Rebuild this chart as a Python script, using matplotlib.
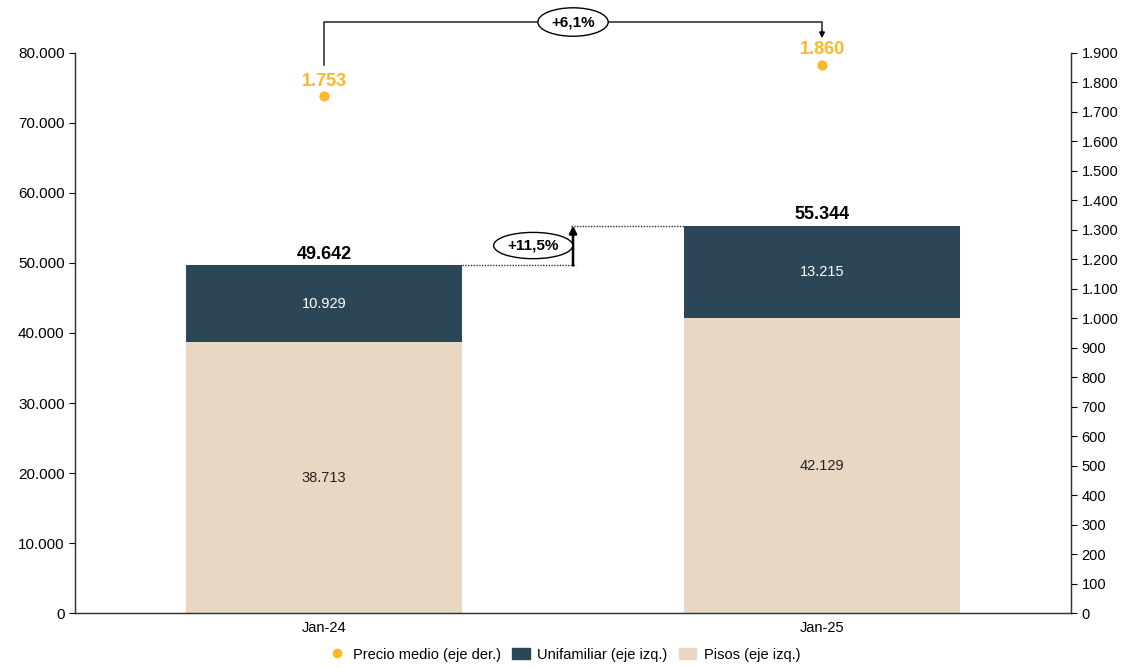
import matplotlib.pyplot as plt
import numpy as np
from matplotlib.ticker import FuncFormatter
from matplotlib.lines import Line2D
from matplotlib.patches import Patch

plt.rcParams['font.family'] = ['Liberation Sans', 'DejaVu Sans']

fechas = ['Jan-24', 'Jan-25']
pisos = [38713, 42129]
unifamiliar = [10929, 13215]
precio = [1753, 1860]
var_total = '+11,5%'
var_precio = '+6,1%'

c_pisos = '#E8D8C3'
c_uni = '#2A4657'
c_precio = '#FBB829'


def miles(v, pos=None):
    return f'{int(round(v)):,}'.replace(',', '.')


fig = plt.figure(figsize=(11.28, 6.68), dpi=100)
ax = fig.add_axes([0.0665, 0.0823, 0.883, 0.8384])
ax2 = ax.twinx()

x = np.arange(len(fechas))
w = 0.554
totales = [p + u for p, u in zip(pisos, unifamiliar)]

ax.bar(x, pisos, w, color=c_pisos, zorder=2)
ax.bar(x, unifamiliar, w, bottom=pisos, color=c_uni, zorder=2)

for i in range(len(x)):
    ax.text(x[i], pisos[i] / 2, miles(pisos[i]), ha='center', va='center',
            fontsize=10.5, color='#222222')
    ax.text(x[i], pisos[i] + unifamiliar[i] / 2, miles(unifamiliar[i]),
            ha='center', va='center', fontsize=10.5, color='white')
    ax.text(x[i], totales[i] + 400, miles(totales[i]), ha='center', va='bottom',
            fontsize=13, fontweight='bold', color='black')

ax.set_xlim(-0.5, 1.5)
ax.set_ylim(0, 80000)
ax.set_yticks(np.arange(0, 80001, 10000))
ax.yaxis.set_major_formatter(FuncFormatter(miles))
ax.set_xticks(x)
ax.set_xticklabels(fechas)
ax.tick_params(axis='x', length=0, labelsize=10.5, pad=6)
ax.tick_params(axis='y', labelsize=11, length=4)

ax2.set_ylim(0, 1900)
ax2.set_yticks(np.arange(0, 1901, 100))
ax2.yaxis.set_major_formatter(FuncFormatter(miles))
ax2.tick_params(axis='y', labelsize=10.5, length=4)
ax2.scatter(x, precio, s=40, color=c_precio, zorder=3, clip_on=False)
for i in range(len(x)):
    ax2.text(x[i], precio[i] + 22, miles(precio[i]), ha='center', va='bottom',
             fontsize=13, fontweight='bold', color=c_precio)

for a in (ax, ax2):
    a.spines['top'].set_visible(False)
    for s in ('left', 'right', 'bottom'):
        a.spines[s].set_color('#333333')
        a.spines[s].set_linewidth(0.9)

# flecha precio medio
y_top = 2005
ax2.plot([x[0], x[0], x[1], x[1]], [precio[0] + 105, y_top, y_top, 1975],
         color='#222222', lw=1.1, clip_on=False, zorder=4)
ax2.annotate('', xy=(x[1], 1950), xytext=(x[1], 1976),
             arrowprops=dict(arrowstyle='-|>', color='black', lw=1.1,
                             mutation_scale=8, shrinkA=0, shrinkB=0),
             annotation_clip=False)
ax2.text(0.5, y_top, var_precio, ha='center', va='center', fontsize=11,
         fontweight='bold', zorder=5,
         bbox=dict(boxstyle='ellipse,pad=0.2', fc='white', ec='black', lw=1))

# flecha total
xa = 0.5
ax.plot([x[0] + w / 2, xa + 0.005], [totales[0], totales[0]], ls=(0, (1, 1)),
        color='#333333', lw=1, zorder=3)
ax.plot([xa - 0.005, x[1] - w / 2], [totales[1], totales[1]], ls=(0, (1, 1)),
        color='#333333', lw=1, zorder=3)
ax.annotate('', xy=(xa, totales[1]), xytext=(xa, totales[0]),
            arrowprops=dict(arrowstyle='-|>', color='black', lw=1.8,
                            mutation_scale=11, shrinkA=0, shrinkB=0))
ax.text(xa - 0.08, (totales[0] + totales[1]) / 2, var_total, ha='center',
        va='center', fontsize=11, fontweight='bold',
        bbox=dict(boxstyle='ellipse,pad=0.15', fc='white', ec='black', lw=1))

handles = [
    Line2D([], [], marker='o', ls='', color=c_precio, markersize=6),
    Patch(color=c_uni),
    Patch(color=c_pisos),
]
labels = ['Precio medio (eje der.)', 'Unifamiliar (eje izq.)', 'Pisos (eje izq.)']
fig.legend(handles, labels, loc='lower center', bbox_to_anchor=(0.5, -0.01),
           ncol=3, frameon=False, fontsize=10.5, handlelength=1.2,
           handletextpad=0.5, columnspacing=0.8)

plt.savefig('out.png', dpi=100)
